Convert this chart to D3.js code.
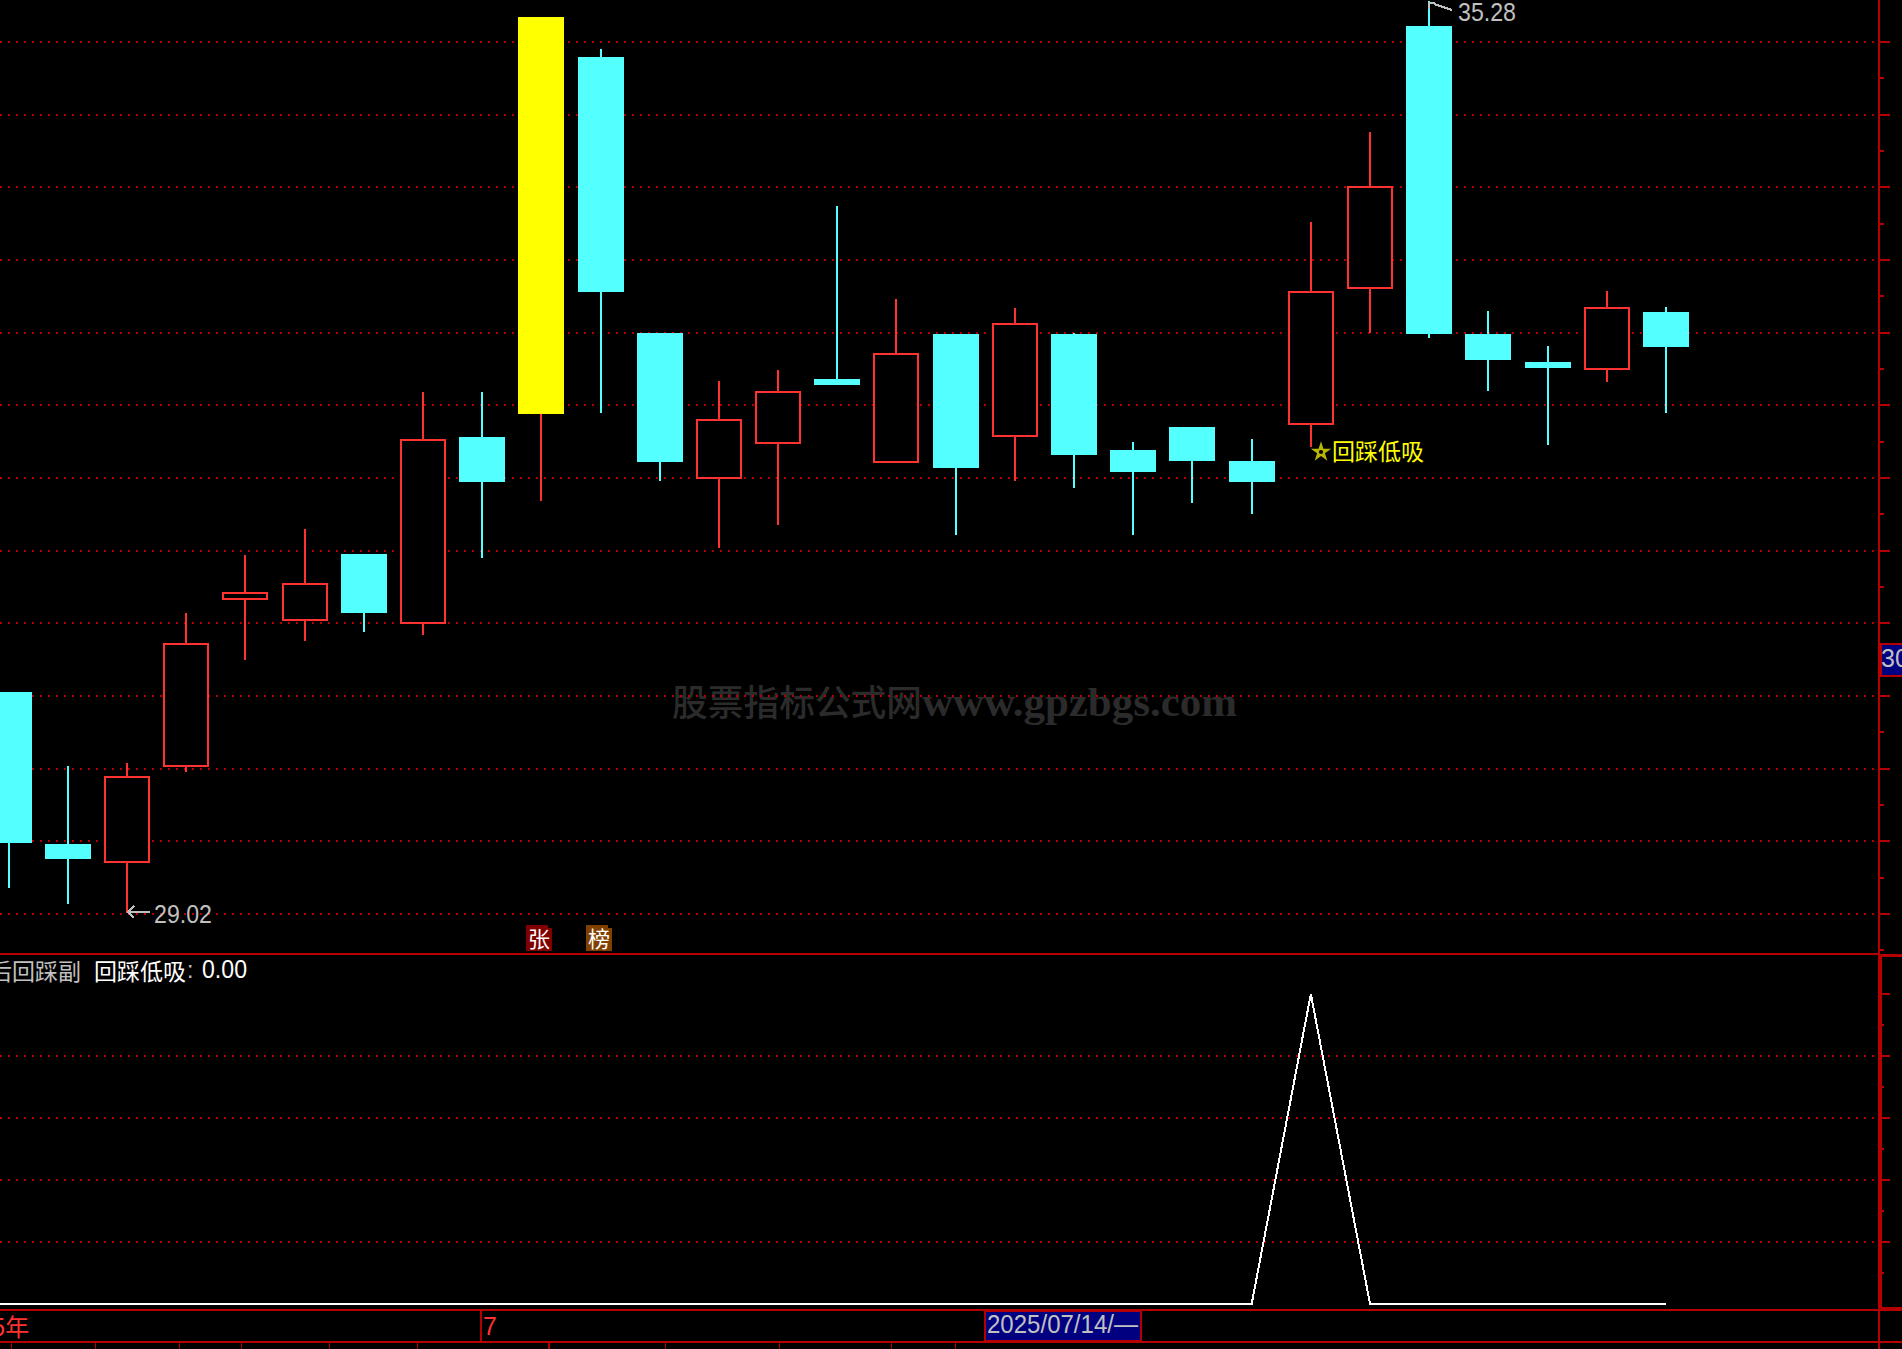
<!DOCTYPE html>
<html><head><meta charset="utf-8">
<script src="https://cdn.jsdelivr.net/npm/d3@7"></script>
<style>
html,body{margin:0;padding:0;background:#000;overflow:hidden}
svg{display:block}
text{font-family:"Liberation Sans",sans-serif}
.cjk{font-family:"Noto Sans CJK SC",sans-serif}
</style></head><body>
<script>
// Candle data (prices)
const candleKinds = ["down","down","up","up","up","up","down","up","down","limit","down","down","up","up","down","up","down","up","down","down","down","down","up","up","down","down","down","up","down"];
const highs  = [30.53,30.02,30.04,31.07,31.47,31.65,31.48,32.59,32.59,35.17,34.95,33.00,32.67,32.74,33.87,33.23,32.99,33.17,33.00,32.25,32.35,32.27,33.76,34.38,35.28,33.15,32.91,33.29,33.18];
const opens  = [30.53,29.48,29.36,30.02,31.17,31.02,31.48,31.00,32.28,32.44,34.90,33.00,32.00,32.24,32.68,32.11,32.99,32.29,32.99,32.19,32.35,32.12,32.37,33.31,35.11,32.99,32.80,32.75,33.14];
const closes = [29.49,29.38,29.94,30.86,31.21,31.27,31.07,32.26,31.97,35.17,33.28,32.11,32.40,32.59,32.64,32.85,32.07,33.06,32.16,32.04,32.12,31.97,33.28,34.00,32.99,32.81,32.76,33.17,32.90];
const lows   = [29.18,29.07,29.01,29.98,30.75,30.88,30.94,30.92,31.45,31.84,32.45,31.98,31.52,31.68,32.64,32.11,31.61,31.98,31.93,31.61,31.83,31.75,32.21,33.00,32.96,32.60,32.23,32.66,32.45];
const signalIdx = [-1,0,1,2,3,4,5,6,7,8,9,10,11,12,13,14,15,16,17,18,19,20,21,22,23,24,25,26,27,28];
const signalVal = [0,0,0,0,0,0,0,0,0,0,0,0,0,0,0,0,0,0,0,0,0,0,0,1,0,0,0,0,0,0];
const priceGrid = [29,29.5,30,30.5,31,31.5,32,32.5,33,33.5,34,34.5,35];
const signalGrid = [0.2,0.4,0.6,0.8];
const signalTicks = [0.2,0.4,0.6,0.8,1];
const dateTicks = [11,95,179,241,329,417,549,665,779,891,955];

const W=1902,H=1349, axisX=1879;
const RED="#b40000", UP="#ff3232", DOWN="#54ffff", GOLD="#ffff00", SILVER="#c0c0c0";
const x=d3.scaleLinear().domain([0,28]).range([8.6,1666]);
const y=d3.scaleLinear().domain([29,35]).range([914,42]);
const ySub=d3.scaleLinear().domain([0,1]).range([1304,994]);
const bodyW=46;

const svg=d3.select("body").append("svg").attr("width",W).attr("height",H).style("background","#000").attr("shape-rendering","crispEdges");

// watermark below the grid
svg.append("text").attr("class","cjk").attr("x",672).attr("y",716).attr("fill","#2b2b2b").attr("font-size",36).attr("font-weight",500)
  .attr("textLength",250).attr("lengthAdjust","spacingAndGlyphs").text("股票指标公式网");
svg.append("text").attr("x",922).attr("y",716).attr("fill","#2b2b2b").attr("font-size",40).attr("font-weight",700)
  .style("font-family","'Liberation Serif',serif").attr("textLength",315).attr("lengthAdjust","spacingAndGlyphs").text("www.gpzbgs.com");

// grids
const dots=(sel,data,sc)=>sel.selectAll(null).data(data).enter().append("line")
  .attr("x1",0).attr("x2",1874).attr("y1",d=>Math.round(sc(d))).attr("y2",d=>Math.round(sc(d)))
  .attr("stroke",RED).attr("stroke-width",2).attr("stroke-dasharray","2 6");
dots(svg.append("g"),priceGrid,y);
dots(svg.append("g"),signalGrid,ySub);

// right axis ticks
const axisG=svg.append("g");
const hl=(g,x1,x2,yy,w=2)=>g.append("line").attr("x1",x1).attr("x2",x2).attr("y1",yy).attr("y2",yy).attr("stroke",RED).attr("stroke-width",w);
priceGrid.forEach(p=>{hl(axisG,axisX,1890,Math.round(y(p)));if(p<35)hl(axisG,axisX,1884,Math.round(y(p+0.25)));});
hl(axisG,axisX,1884,Math.round(y(28.75)));
signalTicks.forEach(p=>{hl(axisG,axisX,1890,Math.round(ySub(p)));hl(axisG,axisX,1884,Math.round(ySub(p-0.1)));});

// candles
const g=svg.append("g");
candleKinds.forEach((k,i)=>{
  const col=k==="up"?UP:k==="limit"?GOLD:DOWN;
  const wick=k==="limit"?UP:col;
  const cx=Math.round(x(i));
  const top=Math.round(y(Math.max(opens[i],closes[i]))), bot=Math.round(y(Math.min(opens[i],closes[i])));
  g.append("line").attr("x1",cx).attr("x2",cx).attr("y1",y(highs[i])).attr("y2",top).attr("stroke",wick).attr("stroke-width",2);
  g.append("line").attr("x1",cx).attr("x2",cx).attr("y1",bot).attr("y2",y(lows[i])).attr("stroke",wick).attr("stroke-width",2);
  const r=g.append("rect").attr("y",top).attr("height",Math.max(bot-top,2));
  if(k==="up") r.attr("fill","#000").attr("stroke",col).attr("stroke-width",2).attr("x",cx-bodyW/2+1).attr("width",bodyW-2);
  else r.attr("fill",col).attr("x",cx-bodyW/2).attr("width",bodyW);
});

// frame
hl(svg,0,axisX,954); hl(svg,axisX,W,955,3);
hl(svg,0,W,1310); hl(svg,axisX,W,1308,3);
hl(svg,0,W,1342);
const vl=(xx,y1,y2,w)=>svg.append("line").attr("x1",xx).attr("x2",xx).attr("y1",y1).attr("y2",y2).attr("stroke",RED).attr("stroke-width",w);
vl(axisX,0,954,2); vl(1880,954,1310,4); vl(axisX,1310,H,2);

// signal line
svg.append("path").datum(signalIdx.map((d,i)=>[x(d),ySub(signalVal[i])]))
  .attr("d",d3.line()).attr("fill","none").attr("stroke","#fff").attr("stroke-width",2);

// annotations
const arrow=(d)=>svg.append("path").attr("d",d).attr("fill","none").attr("stroke",SILVER).attr("stroke-width",2);
const num=(t,xx,yy,len,fill=SILVER)=>svg.append("text").attr("x",xx).attr("y",yy).attr("fill",fill).attr("font-size",25)
  .attr("font-weight",300).attr("textLength",len).attr("lengthAdjust","spacingAndGlyphs").text(t);
arrow("M128,912H150M134,906L128,912L134,918");
num("29.02",154,923,58);
arrow("M1429,3H1435M1429,3V9M1434,4L1452,10");
num("35.28",1458,21,58);

// limit tags
const tag=(t,xx,col)=>{
  svg.append("path").attr("d",`M${xx},925H${xx+22}V928H${xx+26}V951H${xx}Z`).attr("fill",col);
  svg.append("text").attr("class","cjk").attr("x",xx+2).attr("y",947).attr("fill","#fff").attr("font-size",22).text(t);
};
tag("张",526,"#800000"); tag("榜",586,"#804000");

// signal label
svg.append("path").attr("transform","translate(1321,452)").attr("d",d3.symbol(d3.symbolStar,130)()).attr("fill","#b8b800").attr("shape-rendering","auto");
svg.append("path").attr("transform","translate(1321,452)").attr("d",d3.symbol(d3.symbolCircle,14)()).attr("fill","#000").attr("shape-rendering","auto");
svg.append("text").attr("class","cjk").attr("x",1332).attr("y",460).attr("fill",GOLD).attr("font-size",23).text("回踩低吸");

// legend
svg.append("text").attr("class","cjk").attr("x",-11).attr("y",980).attr("fill",SILVER).attr("font-size",23).text("后回踩副");
svg.append("text").attr("class","cjk").attr("x",94).attr("y",980).attr("fill","#fff").attr("font-size",23).text("回踩低吸");
svg.append("text").attr("x",187).attr("y",978).attr("fill",SILVER).attr("font-size",23).text(":");
num("0.00",202,978,45,"#fff");

// date bar
svg.append("text").attr("class","cjk").attr("x",-8).attr("y",1336).attr("fill",UP).attr("font-size",24).text("5年");
vl(481,1310,1342,2);
svg.append("text").attr("x",483).attr("y",1335).attr("fill",UP).attr("font-size",25).attr("font-weight",300).text("7");
svg.append("rect").attr("x",985).attr("y",1311).attr("width",156).attr("height",30).attr("fill","#000080").attr("stroke",RED).attr("stroke-width",2);
num("2025/07/14/—",987,1333,151);
dateTicks.forEach(t=>vl(t,1342,H,t===549?2:1));

// current price tag
svg.append("rect").attr("x",1881).attr("y",644).attr("width",24).attr("height",32).attr("fill","#000080").attr("stroke",RED).attr("stroke-width",2);
svg.append("text").attr("x",1881).attr("y",667).attr("fill",SILVER).attr("font-size",25).attr("font-weight",300).text("30");
</script>
</body></html>
